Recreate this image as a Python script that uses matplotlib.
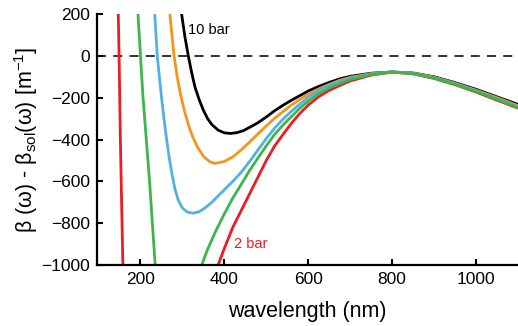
import numpy as np
import matplotlib.pyplot as plt

plt.rcParams['font.family'] = ['Liberation Sans', 'DejaVu Sans']
plt.rcParams['mathtext.default'] = 'regular'

# short-wavelength branches (steep part left of the bend)
red_left_x = [147, 149, 152, 155, 158]
red_left_y = [200, 0, -400, -700, -1000]
green_left_x = [194, 197, 200, 203, 206, 210, 214, 218, 222, 228, 235]
green_left_y = [200, 100, 0, -100, -196, -300, -403, -505, -610, -790, -1000]

# full curves for 10 bar (black), orange, blue
black_x = [298, 306, 314, 322, 330, 340, 350, 360, 370, 385, 400, 415, 430, 445,
           460, 480, 500, 520, 540, 560, 580, 600, 625, 650, 675, 700, 750, 800,
           850, 900, 950, 1000, 1050, 1100]
black_y = [200, 90, 0, -80, -150, -210, -260, -300, -328, -355, -368, -371, -367, -358,
           -342, -320, -292, -262, -236, -212, -190, -168, -146, -127, -110, -98, -83, -77,
           -82, -100, -128, -160, -196, -232]

orange_x = [270, 275, 280, 287, 295, 305, 315, 325, 337, 350, 365, 377, 400, 420,
            440, 460, 480, 500, 520, 540, 560, 580, 600, 625, 650, 675, 700, 750, 800,
            850, 900, 950, 1000, 1050, 1100]
orange_y = [200, 100, 0, -95, -180, -265, -335, -390, -440, -480, -506, -514, -505, -483,
            -450, -412, -373, -335, -298, -266, -235, -208, -184, -158, -136, -117, -103, -85, -77,
            -83, -102, -131, -164, -200, -238]

blue_x = [234, 237, 240, 245, 250, 256, 262, 268, 275, 282, 290, 300, 312, 326,
          340, 355, 370, 385, 400, 420, 440, 460, 480, 500, 520, 540, 560, 580,
          600, 625, 650, 675, 700, 750, 800, 850, 900, 950, 1000, 1050, 1100]
blue_y = [200, 100, 0, -100, -196, -300, -395, -480, -565, -635, -690, -728, -747, -752,
          -745, -725, -700, -670, -640, -600, -557, -505, -450, -395, -345, -302, -265, -230,
          -198, -165, -140, -122, -107, -87, -77, -84, -104, -133, -167, -204, -242]

# long-wavelength branches of green and red (2 bar)
green_x = [346, 360, 380, 400, 420, 440, 460, 480, 500, 520, 540, 560, 580, 600,
           625, 650, 675, 700, 750, 800, 850, 900, 950, 1000, 1050, 1100]
green_y = [-1000, -925, -835, -755, -680, -615, -548, -488, -430, -375, -330, -290, -250, -216,
           -180, -153, -133, -113, -89, -77, -85, -106, -136, -170, -208, -247]

red_x = [385, 400, 420, 440, 460, 480, 500, 520, 540, 560, 580, 600, 625, 650,
         675, 700, 750, 800, 850, 900, 950, 1000, 1050, 1100]
red_y = [-1000, -920, -820, -740, -660, -580, -500, -430, -375, -322, -275, -235, -195, -165,
         -142, -120, -92, -78, -86, -108, -138, -173, -212, -250]

c_red = '#ec1c24'
c_green = '#3db549'
c_blue = '#52b0e6'
c_orange = '#f7931e'

fig = plt.figure(figsize=(5.18, 3.26), dpi=100)
ax = fig.add_axes([0.187, 0.187, 0.813, 0.77])

lw = 2.0
ax.axhline(0, color='#222222', lw=1.3, ls=(0, (5, 4)), zorder=1)
ax.plot(red_left_x, red_left_y, c=c_red, lw=lw)
ax.plot(red_x, red_y, c=c_red, lw=lw)
ax.plot(black_x, black_y, c='black', lw=lw)
ax.plot(orange_x, orange_y, c=c_orange, lw=lw)
ax.plot(blue_x, blue_y, c=c_blue, lw=lw)
ax.plot(green_left_x, green_left_y, c=c_green, lw=lw)
ax.plot(green_x, green_y, c=c_green, lw=lw)

ax.text(313, 123, '10 bar', fontsize=10.5, va='center', ha='left', color='black')
ax.text(423, -900, '2 bar', fontsize=10.5, va='center', ha='left', color=c_red)

ax.set_xlim(96, 1100)
ax.set_ylim(-1000, 200)
ax.set_xticks([200, 400, 600, 800, 1000])
ax.set_yticks(np.arange(-1000, 201, 200))
ax.tick_params(direction='in', length=4, width=1.5, labelsize=12.5, pad=5)

for s in ['top', 'right']:
    ax.spines[s].set_visible(False)
for s in ['left', 'bottom']:
    ax.spines[s].set_linewidth(1.6)

ax.set_xlabel('wavelength (nm)', fontsize=15.5, labelpad=10)
ax.set_ylabel(r'β (ω) - β$_{sol}$(ω) [m$^{-1}$]', fontsize=15.5, labelpad=1)

fig.savefig('out.png', dpi=100)
